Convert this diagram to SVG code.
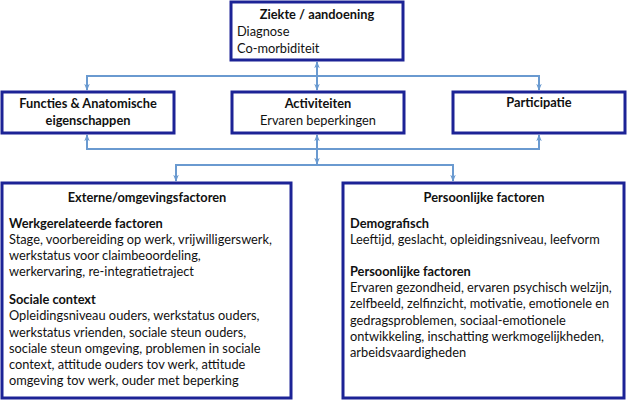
<svg xmlns="http://www.w3.org/2000/svg" width="627" height="400" viewBox="0 0 627 400">
<style>
.box{fill:#fff;stroke:#1c2396;stroke-width:3}
.con{fill:none;stroke:#6a9ad0;stroke-width:2}
text{font-family:Lato,"Open Sans",sans-serif;font-size:12.8px;fill:#111}
.b{font-weight:bold}
.c{text-anchor:middle}
</style>
<defs>
<marker id="ah" viewBox="0 0 10 10" refX="9" refY="5" markerWidth="7" markerHeight="7" markerUnits="userSpaceOnUse" orient="auto-start-reverse">
<path d="M0,1 L10,5 L0,9 L3,5 Z" fill="#6a9ad0"/>
</marker>
</defs>
<g id="connectors">
<line class="con" x1="317" y1="62" x2="317" y2="90" marker-start="url(#ah)" marker-end="url(#ah)"/>
<path class="con" d="M87,90 V76 H539 V90" marker-start="url(#ah)" marker-end="url(#ah)"/>
<path class="con" d="M87,135 V149 H539 V135" marker-start="url(#ah)" marker-end="url(#ah)"/>
<line class="con" x1="317" y1="135" x2="317" y2="164" marker-start="url(#ah)" marker-end="url(#ah)"/>
<path class="con" d="M176,181 V165 H453 V181" marker-start="url(#ah)" marker-end="url(#ah)"/>
</g>
<g id="ziekte">
<rect class="box" x="231" y="2" width="172" height="58"/>
<text class="b c" x="317" y="19">Ziekte / aandoening</text>
<text x="237" y="36">Diagnose</text>
<text x="237" y="53">Co-morbiditeit</text>
</g>
<g id="functies">
<rect class="box" x="2" y="92" width="172" height="41"/>
<text class="b c" x="88" y="108">Functies &amp; Anatomische</text>
<text class="b c" x="88" y="125">eigenschappen</text>
</g>
<g id="activiteiten">
<rect class="box" x="232" y="92" width="172" height="41"/>
<text class="b c" x="318" y="108">Activiteiten</text>
<text class="c" x="318" y="125">Ervaren beperkingen</text>
</g>
<g id="participatie">
<rect class="box" x="453" y="92" width="172" height="41"/>
<text class="b c" x="539" y="107">Participatie</text>
</g>
<g id="externe">
<rect class="box" x="2" y="183" width="289" height="215"/>
<text class="b c" x="147" y="202">Externe/omgevingsfactoren</text>
<text class="b" x="9" y="228">Werkgerelateerde factoren</text>
<text x="9" y="244">Stage, voorbereiding op werk, vrijwilligerswerk,</text>
<text x="9" y="260">werkstatus voor claimbeoordeling,</text>
<text x="9" y="276">werkervaring, re-integratietraject</text>
<text class="b" x="9" y="304">Sociale context</text>
<text x="9" y="320">Opleidingsniveau ouders, werkstatus ouders,</text>
<text x="9" y="337">werkstatus vrienden, sociale steun ouders,</text>
<text x="9" y="353">sociale steun omgeving, problemen in sociale</text>
<text x="9" y="369">context, attitude ouders tov werk, attitude</text>
<text x="9" y="385">omgeving tov werk, ouder met beperking</text>
</g>
<g id="persoonlijke">
<rect class="box" x="343" y="183" width="281" height="215"/>
<text class="b c" x="484" y="202">Persoonlijke factoren</text>
<text class="b" x="350" y="228">Demografisch</text>
<text x="350" y="244">Leeftijd, geslacht, opleidingsniveau, leefvorm</text>
<text class="b" x="350" y="276">Persoonlijke factoren</text>
<text x="350" y="292">Ervaren gezondheid, ervaren psychisch welzijn,</text>
<text x="350" y="308">zelfbeeld, zelfinzicht, motivatie, emotionele en</text>
<text x="350" y="325">gedragsproblemen, sociaal-emotionele</text>
<text x="350" y="341">ontwikkeling, inschatting werkmogelijkheden,</text>
<text x="350" y="357">arbeidsvaardigheden</text>
</g>
</svg>
